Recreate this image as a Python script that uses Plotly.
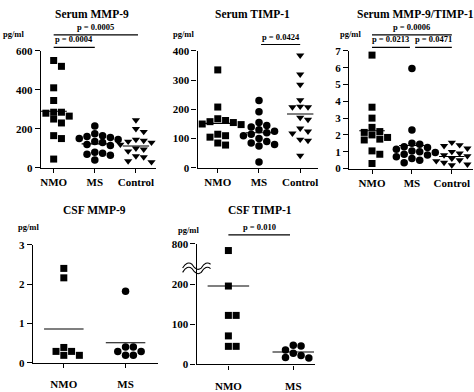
import plotly.graph_objects as go
import numpy as np

W, H = 474, 392

# ---------------- data ----------------
groups3 = ["NMO", "MS", "Control"]
groups2 = ["NMO", "MS"]

serum_mmp9_nmo = [550, 520, 410, 345, 285, 285, 280, 265, 250, 230, 165, 150, 45]
serum_mmp9_ms = [215, 175, 165, 160, 155, 150, 145, 135, 130, 120, 115, 80, 75, 70, 65, 40]
serum_mmp9_ctrl = [245, 200, 185, 145, 140, 135, 130, 120, 100, 95, 85, 60, 55, 35, 30]
serum_mmp9_means = [290, 123, 112]

serum_timp1_nmo = [335, 208, 168, 162, 158, 155, 150, 148, 115, 110, 105, 85, 78]
serum_timp1_ms = [230, 192, 155, 145, 140, 130, 125, 120, 115, 110, 100, 90, 85, 80, 75, 20]
serum_timp1_ctrl = [385, 320, 285, 232, 210, 208, 208, 172, 165, 135, 125, 118, 97, 93, 42]
serum_timp1_means = [152, 120, 184]

ratio_nmo = [6.75, 3.65, 3.0, 2.45, 2.2, 2.15, 2.0, 1.85, 1.75, 1.7, 1.05, 0.85, 0.3]
ratio_ms = [5.95, 2.3, 1.5, 1.45, 1.3, 1.25, 1.15, 1.05, 1.0, 0.95, 0.85, 0.8, 0.7, 0.6, 0.5, 0.35]
ratio_ctrl = [1.55, 1.4, 1.35, 1.2, 1.0, 0.9, 0.8, 0.75, 0.6, 0.5, 0.45, 0.35, 0.25, 0.2, 0.2]
ratio_means = [2.25, 1.37, 0.72]

csf_mmp9_nmo = [2.4, 2.16, 0.39, 0.29, 0.29, 0.19, 0.19]
csf_mmp9_ms = [1.82, 0.4, 0.4, 0.29, 0.29, 0.19, 0.19]
csf_mmp9_means = [0.86, 0.51]

csf_timp1_nmo = [700, 195, 122, 122, 71, 45, 45]
csf_timp1_ms = [48, 46, 36, 28, 22, 17, 16]
csf_timp1_means = [195, 31]

serum_mmp9_ticks = [0, 200, 400, 600]
serum_timp1_ticks = [0, 100, 200, 300, 400]
ratio_ticks = [0, 1, 2, 3, 4, 5, 6, 7]
csf_mmp9_ticks = [0, 1, 2, 3]
csf_timp1_ticks = [0, 100, 200, 800]

# broken axis for CSF TIMP-1: values above 200 compressed 6:1
def brk(v):
    return v if v <= 200 else 200 + (v - 200) / 6.0

# ---------------- layout helpers ----------------
FONT = "Liberation Serif, Times New Roman, serif"
symbols = ["square", "circle", "triangle-down"]
msizes = {"square": 7, "circle": 7.5, "triangle-down": 7.2}

panels = [
    dict(title="Serum MMP-9", cats=groups3,
         data=[serum_mmp9_nmo, serum_mmp9_ms, serum_mmp9_ctrl], means=serum_mmp9_means,
         xpx=(40, 155), ypx=(168.3, 46.5), xr=(-0.31, 2.48), yr=(0, 600),
         ticks=serum_mmp9_ticks, title_pos=(91, 8), unit_pos=(13, 29), standoff=0,
         pvals=[("p = 0.0005", 0, 2.05, 30), ("p = 0.0004", 0, 1, 43)]),
    dict(title="Serum TIMP-1", cats=groups3,
         data=[serum_timp1_nmo, serum_timp1_ms, serum_timp1_ctrl], means=serum_timp1_means,
         xpx=(197, 318), ypx=(168.3, 46.7), xr=(-0.49, 2.44), yr=(0, 400),
         ticks=serum_timp1_ticks, title_pos=(252, 8), unit_pos=(183, 29), standoff=0,
         pvals=[("p = 0.0424", 1.05, 2, 40)]),
    dict(title="Serum MMP-9/TIMP-1", cats=groups3,
         data=[ratio_nmo, ratio_ms, ratio_ctrl], means=ratio_means,
         xpx=(349, 473), ypx=(169, 46.7), xr=(-0.57, 2.53), yr=(0, 7),
         ticks=ratio_ticks, title_pos=(415, 8), unit_pos=(350, 29), standoff=0,
         pvals=[("p = 0.0006", 0, 2, 30), ("p = 0.0213", 0, 0.95, 43), ("p = 0.0471", 1.08, 2, 43)]),
    dict(title="CSF MMP-9", cats=groups2,
         data=[csf_mmp9_nmo, csf_mmp9_ms], means=csf_mmp9_means,
         xpx=(32, 157), ypx=(371, 248.3), xr=(-0.5, 1.52), yr=(0, 3),
         ticks=csf_mmp9_ticks, title_pos=(94, 212), unit_pos=(28, 230), standoff=7,
         pvals=[]),
    dict(title="CSF TIMP-1", cats=groups2,
         data=[[brk(v) for v in csf_timp1_nmo], [brk(v) for v in csf_timp1_ms]],
         means=[brk(v) for v in csf_timp1_means],
         xpx=(196, 315), ypx=(372.7, 247.3), xr=(-0.49, 1.34), yr=(0, brk(800)),
         ticks=[brk(v) for v in csf_timp1_ticks], ticktext=[str(v) for v in csf_timp1_ticks],
         title_pos=(260, 212), unit_pos=(188, 233), standoff=7,
         pvals=[("p = 0.010", 0, 0.95, 238)]),
]


def swarm(values, ppu_y, step_units, min_dy):
    vals = np.asarray(values, dtype=float)
    order = np.argsort(-vals, kind="stable")
    placed = []
    offs = np.zeros(len(vals))
    for idx in order:
        ypx = vals[idx] * ppu_y
        for k in [0, 1, -1, 2, -2, 3, -3, 4, -4]:
            if all(not (kk == k and abs(ypx - yy) < min_dy) for kk, yy in placed):
                placed.append((k, ypx))
                offs[idx] = k * step_units
                break
    return offs


fig = go.Figure()
layout = dict(
    width=W, height=H, margin=dict(l=0, r=0, t=0, b=0),
    paper_bgcolor="white", plot_bgcolor="white", showlegend=False,
    font=dict(family=FONT, size=11, color="black", weight="bold"),
)
shapes = []
annotations = []

def px2x(px):
    return px / W

def py2y(py):
    return 1 - py / H

for i, p in enumerate(panels, start=1):
    xa = "x" if i == 1 else f"x{i}"
    ya = "y" if i == 1 else f"y{i}"
    xk = "xaxis" if i == 1 else f"xaxis{i}"
    yk = "yaxis" if i == 1 else f"yaxis{i}"
    x0, x1 = p["xpx"]
    yb, yt = p["ypx"]
    ppu_x = (x1 - x0) / (p["xr"][1] - p["xr"][0])
    ppu_y = (yb - yt) / (p["yr"][1] - p["yr"][0])
    step = 7.8 / ppu_x
    hw = 0.32
    for j, cat in enumerate(p["cats"]):
        vals = p["data"][j]
        offs = swarm(vals, ppu_y, step, 6.5)
        sym = symbols[j]
        fig.add_trace(go.Scatter(
            x=[j + o for o in offs], y=vals, mode="markers", xaxis=xa, yaxis=ya,
            marker=dict(symbol=sym, size=msizes[sym], color="black", line=dict(width=0)),
            cliponaxis=False, hoverinfo="skip"))
        fig.add_trace(go.Scatter(
            x=[j - hw, j + hw], y=[p["means"][j]] * 2, mode="lines", xaxis=xa, yaxis=ya,
            line=dict(color="black", width=1.1), hoverinfo="skip"))
    tickfont = dict(family=FONT, size=11, color="black", weight="bold")
    layout[xk] = dict(
        domain=[px2x(x0), px2x(x1)], range=list(p["xr"]), anchor=ya,
        tickvals=list(range(len(p["cats"]))), ticktext=p["cats"],
        showline=True, linecolor="black", linewidth=1.4, ticks="outside",
        ticklen=4, tickwidth=1.3, tickcolor="black", showgrid=False, zeroline=False,
        tickfont=tickfont, fixedrange=True, ticklabelstandoff=p["standoff"])
    layout[yk] = dict(
        domain=[py2y(yb), py2y(yt)], range=list(p["yr"]), anchor=xa,
        tickvals=p["ticks"], ticktext=p.get("ticktext", [str(t) for t in p["ticks"]]),
        showline=True, linecolor="black", linewidth=1.4, ticks="outside",
        ticklen=5, tickwidth=1.3, tickcolor="black", showgrid=False, zeroline=False,
        tickfont=tickfont, fixedrange=True)
    annotations.append(dict(
        text=p["title"], x=px2x(p["title_pos"][0]), y=py2y(p["title_pos"][1]),
        xref="paper", yref="paper", showarrow=False, xanchor="center", yanchor="middle",
        font=dict(family=FONT, size=11.5, color="black", weight="bold")))
    annotations.append(dict(
        text="pg/ml", x=px2x(p["unit_pos"][0]), y=py2y(p["unit_pos"][1]),
        xref="paper", yref="paper", showarrow=False, xanchor="center", yanchor="middle",
        font=dict(family=FONT, size=8.5, color="black", weight="bold")))
    for txt, a, b, ly in p["pvals"]:
        shapes.append(dict(type="line", xref=xa, yref="paper", x0=a, x1=b,
                           y0=py2y(ly), y1=py2y(ly), line=dict(color="black", width=1.1)))
        annotations.append(dict(
            text=txt, x=(a + b) / 2, y=py2y(ly - 1), xref=xa, yref="paper",
            showarrow=False, xanchor="center", yanchor="bottom",
            font=dict(family=FONT, size=8.5, color="black", weight="bold")))

# axis break marks on CSF TIMP-1 y axis
def wave(py_c):
    xs = np.linspace(182, 210, 4)
    d = f"M {px2x(xs[0])},{py2y(py_c + 2)}"
    amp = 3
    for k in range(3):
        xa_, xb_ = xs[k], xs[k + 1]
        sign = -1 if k % 2 == 0 else 1
        d += (f" Q {px2x((xa_ + xb_) / 2)},{py2y(py_c + sign * amp * 2)}"
              f" {px2x(xb_)},{py2y(py_c + (2 if k % 2 == 1 else -2))}")
    return d

shapes.append(dict(type="path", xref="paper", yref="paper", path=wave(270.5),
                   line=dict(color="black", width=1.1)))
shapes.append(dict(type="path", xref="paper", yref="paper", path=wave(275),
                   line=dict(color="black", width=1.1)))

layout["shapes"] = shapes
layout["annotations"] = annotations
fig.update_layout(**layout)
fig.write_html("out.html", config={"displayModeBar": False},
               post_script="document.body.style.margin='0px';document.body.style.padding='0px';")
